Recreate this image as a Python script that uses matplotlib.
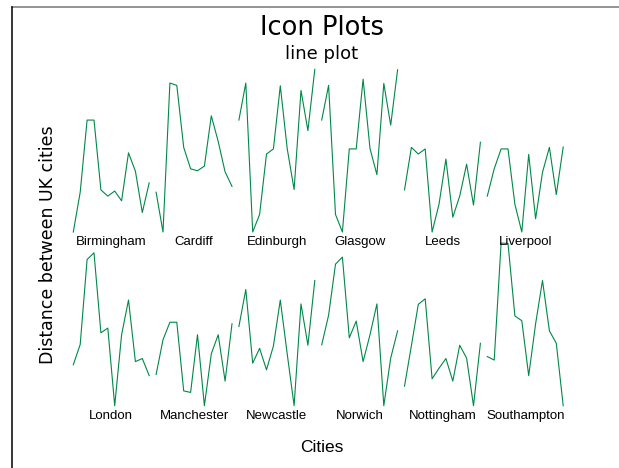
import matplotlib.pyplot as plt
from matplotlib.lines import Line2D

# distance rows (miles), one list per city, in the same city order
cities = ["Birmingham", "Cardiff", "Edinburgh", "Glasgow", "Leeds", "Liverpool",
          "London", "Manchester", "Newcastle", "Norwich", "Nottingham", "Southampton"]
birmingham = [0, 102, 287, 287, 108, 92, 105, 80, 203, 156, 50, 126]
cardiff = [102, 0, 382, 376, 217, 162, 157, 169, 298, 232, 154, 117]
edinburgh = [287, 382, 0, 45, 200, 213, 375, 214, 109, 363, 260, 417]
glasgow = [287, 376, 45, 0, 213, 213, 392, 214, 147, 381, 274, 416]
leeds = [108, 217, 200, 213, 0, 71, 187, 38, 92, 174, 69, 230]
liverpool = [92, 162, 213, 213, 71, 0, 199, 34, 153, 217, 96, 218]
london = [105, 157, 375, 392, 187, 199, 0, 182, 271, 113, 121, 77]
manchester = [80, 169, 214, 214, 38, 34, 182, 0, 133, 182, 63, 210]
newcastle = [203, 298, 109, 147, 92, 153, 271, 133, 0, 261, 155, 321]
norwich = [156, 232, 363, 381, 174, 217, 113, 182, 261, 0, 122, 192]
nottingham = [50, 154, 260, 274, 69, 96, 121, 63, 155, 122, 0, 160]
southampton = [126, 117, 417, 416, 230, 218, 77, 210, 321, 192, 160, 0]

rows = [birmingham, cardiff, edinburgh, glasgow, leeds, liverpool,
        london, manchester, newcastle, norwich, nottingham, southampton]

W, H = 619, 468
fig = plt.figure(figsize=(W / 100, H / 100), dpi=100)
fig.patch.set_facecolor("white")

ax = fig.add_axes([73.3 / W, (H - 405.7) / H, 489.9 / W, 338 / H])
ax.set_xlim(0, 71)
ax.set_ylim(0, 866.7)
ax.set_axis_off()

ncol = 6
row_gap = 445.4  # vertical offset between the two icon rows
green = "#00884a"
lab_font = "Liberation Sans"

for i, (name, vals) in enumerate(zip(cities, rows)):
    col = i % ncol
    r = i // ncol
    base = row_gap * (1 - r)
    xs = [col * 12 + j for j in range(len(vals))]
    ys = [base + v for v in vals]
    ax.plot(xs, ys, color=green, lw=0.8, clip_on=False)
    ax.annotate(name, (col * 12 + 5.5, base), xytext=(0, -9.7),
                textcoords="offset points", ha="center", va="baseline",
                fontsize=9.5, family=lab_font, color="black")

big_font = "DejaVu Sans"
fig.text(321.7 / W, 1 - 35 / H, "Icon Plots", ha="center", va="baseline",
         fontsize=18.5, family=big_font)
fig.text(321.7 / W, 1 - 59.3 / H, "line plot", ha="center", va="baseline",
         fontsize=13, family=big_font)
fig.text(57 / W, 1 - 245 / H, "Distance between UK cities", rotation=90,
         ha="right", va="center", fontsize=12.5, family=big_font)
fig.text(322 / W, 1 - 452 / H, "Cities", ha="center", va="baseline",
         fontsize=12.5, family=lab_font)

# outer frame (top and left edges visible)
fig.add_artist(Line2D([11.7 / W, 1], [1 - 7 / H, 1 - 7 / H], color="#777777", lw=1.1))
fig.add_artist(Line2D([11.7 / W, 11.7 / W], [0, 1 - 7 / H], color="black", lw=1.1))

fig.savefig("out.png", dpi=100, facecolor="white")
